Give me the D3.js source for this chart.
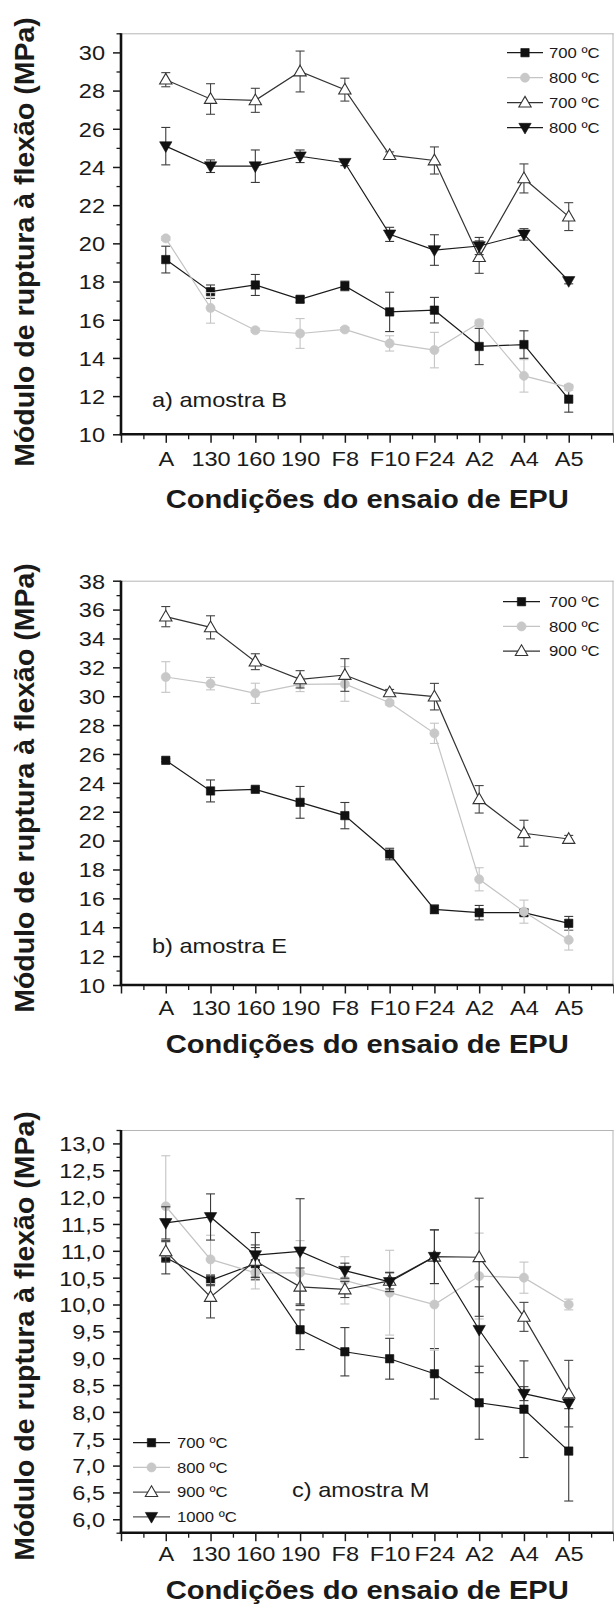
<!DOCTYPE html>
<html><head><meta charset="utf-8">
<script src="https://cdn.jsdelivr.net/npm/d3@7"></script>
<style>
body{margin:0;background:#fff}
svg{display:block}
text{font-family:"Liberation Sans",Arial,Helvetica,sans-serif;fill:#1a1a1a}
</style>
</head><body>
<svg id="chart" width="614" height="1606"></svg>
<script>
// ---------- DATA ----------
const categories = ["A","130","160","190","F8","F10","F24","A2","A4","A5"];
const xTitle = "Condições do ensaio de EPU";
const yTitle = "Módulo de ruptura à flexão (MPa)";

// Panel a) amostra B
const aNote = "a) amostra B";
const aLabels = ["700 ºC","800 ºC","700 ºC","800 ºC"];
const aSq700 = [19.15,17.47,17.82,17.07,17.77,16.41,16.50,14.60,14.70,11.84];
const aSq700Err = [0.70,0.35,0.55,0.15,0.25,1.03,0.67,0.95,0.72,0.68];
const aCi800 = [20.26,16.62,15.45,15.28,15.49,14.76,14.41,15.83,13.06,12.46];
const aCi800Err = [0.10,0.80,0.10,0.78,0.10,0.40,0.93,0.15,0.85,0.15];
const aTr700 = [28.57,27.56,27.49,29.00,28.05,24.62,24.34,19.28,23.40,21.40];
const aTr700Err = [0.37,0.80,0.63,1.07,0.60,0.17,0.71,0.85,0.76,0.73];
const aInv800 = [25.09,24.04,24.04,24.56,24.22,20.47,19.65,19.86,20.47,18.03];
const aInv800Err = [0.98,0.33,0.85,0.33,0.15,0.37,0.80,0.45,0.30,0.15];
const aYTicks = [10,12,14,16,18,20,22,24,26,28,30];

// Panel b) amostra E
const bNote = "b) amostra E";
const bLabels = ["700 ºC","800 ºC","900 ºC"];
const bSq700 = [25.56,23.44,23.55,22.65,21.73,19.07,15.24,15.01,15.01,14.27];
const bSq700Err = [0.10,0.76,0.10,1.10,0.91,0.40,0.30,0.50,0.20,0.48];
const bCi800 = [31.33,30.87,30.20,30.82,30.85,29.55,27.43,17.32,15.08,13.12];
const bCi800Err = [1.06,0.43,0.70,0.50,1.20,0.15,0.70,0.80,0.80,0.70];
const bTr900 = [35.51,34.77,32.39,31.17,31.47,30.27,29.97,22.86,20.51,20.11];
const bTr900Err = [0.70,0.80,0.55,0.60,1.13,0.20,0.92,0.95,0.90,0.25];
const bYTicks = [10,12,14,16,18,20,22,24,26,28,30,32,34,36,38];

// Panel c) amostra M
const cNote = "c) amostra M";
const cLabels = ["700 ºC","800 ºC","900 ºC","1000 ºC"];
const cSq700 = [10.87,10.45,10.76,9.53,9.12,8.99,8.71,8.17,8.05,7.27];
const cSq700Err = [0.30,0.10,0.30,0.37,0.45,0.38,0.47,0.68,0.90,0.93];
const cCi800 = [11.83,10.84,10.59,10.59,10.45,10.22,10.00,10.53,10.50,10.00];
const cCi800Err = [0.94,0.45,0.30,0.60,0.44,0.79,0.85,0.80,0.29,0.10];
const cTr900 = [10.99,10.14,10.81,10.33,10.28,10.44,10.89,10.88,9.77,8.34];
const cTr900Err = [0.20,0.39,0.30,0.35,0.15,0.15,0.50,1.10,0.27,0.62];
const cInv1000 = [11.52,11.63,10.92,10.99,10.63,10.42,10.89,9.53,8.34,8.16];
const cInv1000Err = [0.30,0.43,0.42,0.98,0.14,0.18,0.50,0.80,0.13,0.10];
const cYTicks = [6.0,6.5,7.0,7.5,8.0,8.5,9.0,9.5,10.0,10.5,11.0,11.5,12.0,12.5,13.0];

// ---------- STYLES ----------
const STY = {
  sq:  {shape:"square",  fill:"#111",   stroke:"#111", line:"#1a1a1a", err:"#3a3a3a"},
  ci:  {shape:"circle",  fill:"#c8c8c8",stroke:"#c8c8c8", line:"#c4c4c4", err:"#c4c4c4"},
  tr:  {shape:"triangle",fill:"#fff",   stroke:"#333", line:"#333", err:"#444"},
  inv: {shape:"inv",     fill:"#111",   stroke:"#111", line:"#1a1a1a", err:"#3a3a3a"}
};

const X0 = 121, X1 = 613.5;
const fmtInt = d => String(d);
const fmtDec = d => d3.format(".1f")(d).replace(".", ",");

const panels = [
  {top:33.3, bottom:434.3, domain:[10,31], ticks:aYTicks, minorStep:1, fmt:fmtInt,
   series:[
     {v:aSq700,e:aSq700Err,s:STY.sq,label:aLabels[0]},
     {v:aCi800,e:aCi800Err,s:STY.ci,label:aLabels[1]},
     {v:aTr700,e:aTr700Err,s:STY.tr,label:aLabels[2]},
     {v:aInv800,e:aInv800Err,s:STY.inv,label:aLabels[3]}],
   legend:{x0:507,x1:543,xt:549,y0:52.7,dy:25},
   note:{text:aNote,x:152,y:406.7}, labOff:32, titleOff:74, yLabC:242},
  {top:580.7, bottom:985, domain:[10,38], ticks:bYTicks, minorStep:1, fmt:fmtInt,
   series:[
     {v:bSq700,e:bSq700Err,s:STY.sq,label:bLabels[0]},
     {v:bCi800,e:bCi800Err,s:STY.ci,label:bLabels[1]},
     {v:bTr900,e:bTr900Err,s:STY.tr,label:bLabels[2]}],
   legend:{x0:503,x1:540,xt:549,y0:601.7,dy:24.7},
   note:{text:bNote,x:152,y:953.3}, labOff:30, titleOff:68, yLabC:788},
  {top:1130, bottom:1532.7, domain:[5.75,13.25], ticks:cYTicks, minorStep:0.25, fmt:fmtDec,
   series:[
     {v:cSq700,e:cSq700Err,s:STY.sq,label:cLabels[0]},
     {v:cCi800,e:cCi800Err,s:STY.ci,label:cLabels[1]},
     {v:cTr900,e:cTr900Err,s:STY.tr,label:cLabels[2],legLine:"#555"},
     {v:cInv1000,e:cInv1000Err,s:STY.inv,label:cLabels[3],legLine:"#555"}],
   legend:{x0:133,x1:170,xt:177,y0:1442.7,dy:24.7},
   note:{text:cNote,x:292,y:1496.7}, labOff:28, titleOff:66, yLabC:1336}
];

const svg = d3.select("#chart");
const SX = 1.15; // horizontal stretch of the lettering
const TICK_FS = 20.5;

function symbolPath(shape){
  if(shape==="square") return d3.symbol(d3.symbolSquare, 70)();
  if(shape==="circle") return d3.symbol(d3.symbolCircle, 66)();
  return d3.symbol(d3.symbolTriangle, 66)();
}
function drawMarker(g, shape, x, y, s){
  const p = g.append("path").attr("d", symbolPath(shape))
    .attr("fill", s.fill).attr("stroke", s.stroke).attr("stroke-width", shape==="triangle"?1.1:0.6);
  const rot = shape==="inv" ? " rotate(180)" : "";
  const dyOff = (shape==="triangle") ? 0.8 : (shape==="inv" ? -0.8 : 0);
  p.attr("transform", `translate(${x},${y+dyOff})${rot}`);
}

const x = d3.scaleLinear().domain([-1,10]).range([X0,X1]);
const idx = d3.range(categories.length);

panels.forEach(P => {
  const y = d3.scaleLinear().domain(P.domain).range([P.bottom, P.top]);
  const g = svg.append("g");

  // frame (top & right)
  g.append("line").attr("x1",X0).attr("x2",X1).attr("y1",P.top+0.5).attr("y2",P.top+0.5)
    .attr("stroke","#b5b5b5").attr("stroke-width",1);
  g.append("line").attr("x1",X1-0.5).attr("x2",X1-0.5).attr("y1",P.top).attr("y2",P.bottom)
    .attr("stroke","#b5b5b5").attr("stroke-width",1);

  // minor y ticks
  const minors = d3.range(P.domain[0], P.domain[1]+1e-6, P.minorStep)
    .filter(v => !P.ticks.some(t => Math.abs(t-v)<1e-6));
  const yMinor = d3.axisLeft(y).tickValues(minors).tickSize(4.5).tickSizeOuter(0).tickFormat("");
  const gym = g.append("g").attr("transform",`translate(${X0},0)`).call(yMinor);
  gym.select(".domain").remove();
  gym.selectAll(".tick line").attr("stroke","#1a1a1a").attr("stroke-width",1.3);

  // major y axis
  const yAxis = d3.axisLeft(y).tickValues(P.ticks).tickSize(8).tickSizeOuter(0).tickPadding(8).tickFormat(P.fmt);
  const gy = g.append("g").attr("transform",`translate(${X0},0)`).call(yAxis);
  gy.select(".domain").attr("d",`M0,${P.top}V${P.bottom}`).attr("stroke","#111").attr("stroke-width",2.6);
  gy.selectAll(".tick line").attr("stroke","#1a1a1a").attr("stroke-width",1.5);
  gy.selectAll(".tick text").attr("font-size",TICK_FS).attr("fill","#1a1a1a")
    .attr("x", -16/SX).attr("dy","0.36em").attr("transform",`scale(${SX},1)`);

  // x axis
  const xMinor = d3.axisBottom(x).tickValues(d3.range(-0.5,10,1)).tickSize(5).tickSizeOuter(0).tickFormat("");
  const gxm = g.append("g").attr("transform",`translate(0,${P.bottom})`).call(xMinor);
  gxm.select(".domain").remove();
  gxm.selectAll(".tick line").attr("stroke","#1a1a1a").attr("stroke-width",1.3);

  const xAxis = d3.axisBottom(x).tickValues(d3.range(-1,11)).tickSize(8.5).tickSizeOuter(0)
    .tickFormat(i => categories[i] !== undefined ? categories[i] : "");
  const gx = g.append("g").attr("transform",`translate(0,${P.bottom})`).call(xAxis);
  gx.select(".domain").attr("d",`M${X0-1.3},0H${X1}`).attr("stroke","#111").attr("stroke-width",2.6);
  gx.selectAll(".tick line").attr("stroke","#1a1a1a").attr("stroke-width",1.5);
  gx.selectAll(".tick text").attr("font-size",TICK_FS).attr("fill","#1a1a1a")
    .attr("y", P.labOff).attr("dy",0).attr("transform",`scale(${SX},1)`);

  // series
  P.series.forEach(S => {
    const st = S.s;
    const sg = g.append("g");
    idx.forEach(i => {
      const cx = x(i), lo = y(S.v[i]-S.e[i]), hi = y(S.v[i]+S.e[i]);
      sg.append("line").attr("x1",cx).attr("x2",cx).attr("y1",lo).attr("y2",hi)
        .attr("stroke",st.err).attr("stroke-width",1.1);
      [lo,hi].forEach(yy => sg.append("line").attr("x1",cx-4.5).attr("x2",cx+4.5).attr("y1",yy).attr("y2",yy)
        .attr("stroke",st.err).attr("stroke-width",1.1));
    });
    const line = d3.line().x(i => x(i)).y(i => y(S.v[i]));
    sg.append("path").attr("d", line(idx)).attr("fill","none")
      .attr("stroke",st.line).attr("stroke-width",1.2);
    idx.forEach(i => drawMarker(sg, st.shape, x(i), y(S.v[i]), st));
  });

  // legend
  const L = P.legend;
  P.series.forEach((S,k) => {
    const ly = L.y0 + k*L.dy;
    const lc = S.legLine || S.s.line;
    g.append("line").attr("x1",L.x0).attr("x2",L.x1).attr("y1",ly).attr("y2",ly)
      .attr("stroke",lc).attr("stroke-width",1.2);
    drawMarker(g, S.s.shape, (L.x0+L.x1)/2, ly, S.s);
    g.append("text").attr("transform",`translate(${L.xt},${ly}) scale(${SX},1)`)
      .attr("dy","0.36em").attr("font-size",14.5).text(S.label);
  });

  // note
  g.append("text").attr("transform",`translate(${P.note.x},${P.note.y}) scale(${SX},1)`)
    .attr("font-size",20.5).text(P.note.text);

  // axis titles
  g.append("text").attr("transform",`translate(${(X0+X1)/2},${P.bottom+P.titleOff}) scale(1.1,1)`)
    .attr("text-anchor","middle").attr("font-weight","bold").attr("font-size",26.5).text(xTitle);
  g.append("text").attr("transform",`translate(34,${P.yLabC}) rotate(-90)`)
    .attr("text-anchor","middle").attr("font-weight","bold").attr("font-size",28.5).text(yTitle);
});
</script>
</body></html>
